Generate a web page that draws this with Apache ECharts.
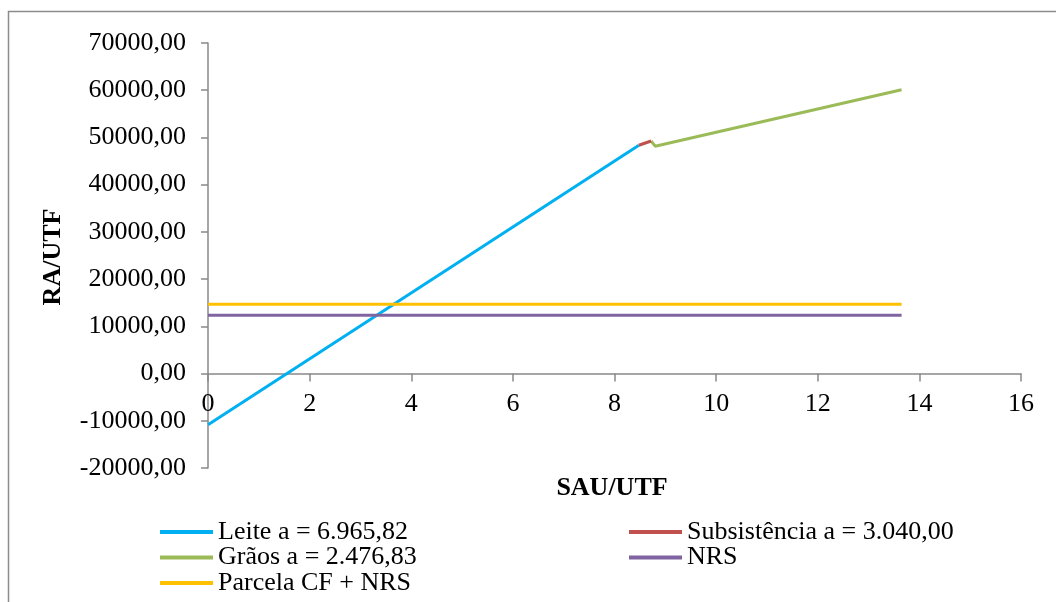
<!DOCTYPE html>
<html>
<head>
<meta charset="utf-8">
<script src="https://cdn.jsdelivr.net/npm/echarts@6/dist/echarts.min.js"></script>
<style>
html,body{margin:0;padding:0;background:#fff;}
#chart{width:1056px;height:602px;}
</style>
</head>
<body>
<div id="chart"></div>
<script>
// Series names
const seriesNames = ['Leite a = 6.965,82', 'Subsistência a = 3.040,00', 'Grãos a = 2.476,83', 'NRS', 'Parcela CF + NRS'];
// [SAU/UTF, RA/UTF] points
const leite = [[0, -10850], [8.48, 48350]];
const subsistencia = [[8.48, 48350], [8.72, 49250]];
const graos = [[8.72, 49250], [8.8, 48150], [13.65, 60100]];
const nrs = [[0, 12350], [13.65, 12350]];
const parcela = [[0, 14700], [13.65, 14700]];
const colors = ['#00B0F0', '#C0504D', '#9BBB59', '#8064A2', '#FFC000'];
// Axis ranges
const xMin = 0, xMax = 16, xStep = 2;
const yMin = -20000, yMax = 70000, yStep = 10000;

const chart = echarts.init(document.getElementById('chart'));
const font = '"Liberation Serif", "Times New Roman", serif';
const axisGray = '#898989';
const dataSets = [leite, subsistencia, graos, nrs, parcela];

const gridTop = 43, gridBottom = 134, chartH = 602;
const gridH = chartH - gridTop - gridBottom;
// shift x axis up so it sits at y = 0
const xAxisOffset = -gridH * (0 - yMin) / (yMax - yMin);

const series = seriesNames.map((n, i) => ({
  name: n,
  type: 'line',
  data: dataSets[i],
  symbol: 'none',
  showSymbol: false,
  animation: false,
  z: i === 1 ? 5 : 3,
  lineStyle: { color: colors[i], width: 3 },
  itemStyle: { color: colors[i] }
}));

const legendCommon = {
  orient: 'vertical',
  icon: 'rect',
  itemWidth: 53,
  itemHeight: 4,
  itemGap: -0.5,
  height: 120,
  selectedMode: false,
  textStyle: { fontFamily: font, fontSize: 26, color: '#000', lineHeight: 26, padding: [0, 0, 0, 0] }
};

chart.setOption({
  animation: false,
  backgroundColor: '#fff',
  color: colors,
  grid: { left: 208, right: 35, top: gridTop, bottom: gridBottom, containLabel: false },
  xAxis: {
    type: 'value', min: xMin, max: xMax, interval: xStep,
    offset: xAxisOffset,
    axisLine: { show: true, onZero: false, lineStyle: { color: axisGray, width: 1.5 } },
    axisTick: { show: true, inside: false, length: 8, lineStyle: { color: axisGray, width: 1.5 } },
    axisLabel: { fontFamily: font, fontSize: 26, color: '#000', margin: 18 },
    splitLine: { show: false }
  },
  yAxis: {
    type: 'value', min: yMin, max: yMax, interval: yStep,
    axisLine: { show: true, onZero: false, lineStyle: { color: axisGray, width: 1.5 } },
    axisTick: { show: true, inside: false, length: 7, lineStyle: { color: axisGray, width: 1.5 } },
    axisLabel: {
      fontFamily: font, fontSize: 26, color: '#000', margin: 22,
      formatter: v => v.toFixed(2).replace('.', ',')
    },
    splitLine: { show: false }
  },
  legend: [
    Object.assign({}, legendCommon, { left: 155, top: 514, data: [seriesNames[0], seriesNames[2], seriesNames[4]] }),
    Object.assign({}, legendCommon, { left: 624, top: 514, data: [seriesNames[1], seriesNames[3]] })
  ],
  graphic: [
    { type: 'rect', shape: { x: 8.5, y: 11.5, width: 1200, height: 800 }, style: { fill: 'none', stroke: '#8c8c8c', lineWidth: 1.5 }, silent: true },
    { type: 'text', x: 53, y: 257, rotation: Math.PI / 2, style: { text: 'RA/UTF', font: 'bold 26px ' + font, fill: '#000', align: 'center', verticalAlign: 'middle' } },
    { type: 'text', x: 612, y: 488, style: { text: 'SAU/UTF', font: 'bold 26px ' + font, fill: '#000', align: 'center', verticalAlign: 'middle' } }
  ],
  series: series
});
</script>
</body>
</html>
